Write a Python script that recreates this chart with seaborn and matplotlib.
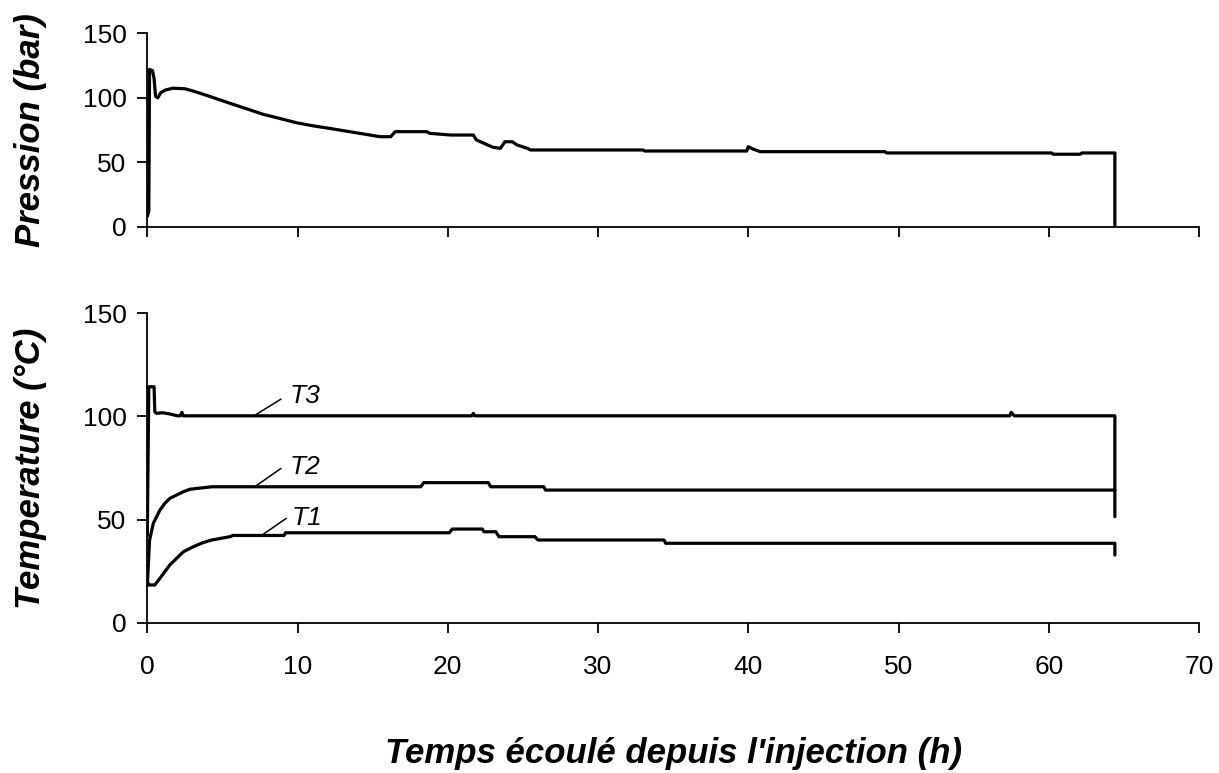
import matplotlib
matplotlib.use("Agg")
import matplotlib.pyplot as plt
import seaborn as sns
import pandas as pd

# ---- data ----
time_p = [0.0, 0.1, 0.15, 0.35, 0.45, 0.55, 0.7, 0.9, 1.2, 1.7, 2.5, 3.2, 4.3, 5.5, 6.6,
          7.7, 8.8, 9.9, 11.0, 12.1, 13.3, 14.4, 15.5, 16.2, 16.5, 18.6, 18.8, 20.2, 21.7,
          21.9, 22.4, 23.0, 23.5, 23.8, 24.3, 24.6, 25.3, 25.5, 33.0, 33.1, 39.9, 40.0,
          40.3, 40.8, 49.1, 49.2, 50.5, 60.2, 60.3, 62.1, 62.2, 64.4, 64.4]
pressure = [8, 12, 122, 121, 115, 101, 100, 104, 106, 107.4, 107, 104.7, 100.5, 95.7, 91.5,
            87.2, 84, 80.7, 78.3, 76.3, 74, 71.9, 69.8, 69.8, 73.7, 73.7, 72.4, 71.1, 71.1,
            67.3, 64.7, 61.6, 60.8, 65.9, 65.9, 63.4, 60.8, 59.5, 59.5, 58.7, 58.7, 62,
            60.3, 58.2, 58.2, 57.2, 57.2, 57.2, 56.2, 56.2, 57.2, 57.2, 0]

time_t1 = [0.0, 0.1, 0.5, 0.84, 1.5, 1.95, 2.4, 3.05, 3.7, 4.3, 5.5, 5.7, 9.1, 9.2, 20.1,
           20.3, 22.3, 22.4, 23.2, 23.4, 25.8, 26.0, 34.4, 34.5, 64.4, 64.4]
temp_t1 = [20, 18.3, 18.3, 21.5, 28, 31.2, 34.4, 36.8, 38.8, 40.1, 41.7, 42.3, 42.3, 43.6,
           43.6, 45.4, 45.4, 44.1, 44.1, 41.7, 41.7, 40.1, 40.1, 38.5, 38.5, 32.8]

time_t2 = [0.0, 0.15, 0.4, 0.62, 0.84, 1.17, 1.5, 1.95, 2.4, 2.83, 4.3, 18.2, 18.4, 22.7,
           22.85, 26.4, 26.5, 64.4, 64.4]
temp_t2 = [18, 40, 48.2, 51.4, 54.6, 57.9, 60.3, 61.9, 63.5, 64.7, 65.9, 65.9, 67.9, 67.9,
           65.9, 65.9, 64.3, 64.3, 51.4]

time_t3 = [0.0, 0.1, 0.45, 0.5, 0.6, 1.0, 1.5, 2.0, 2.2, 2.3, 2.4, 21.6, 21.7, 21.8, 57.4,
           57.5, 57.7, 64.4, 64.4]
temp_t3 = [42, 114.4, 114.4, 102.3, 101.5, 101.8, 101.2, 100.3, 100.3, 102, 100.3, 100.3,
           101.5, 100.3, 100.3, 102, 100.3, 100.3, 64.3]

x_ticks = [0, 10, 20, 30, 40, 50, 60, 70]
y_ticks = [0, 50, 100, 150]
curve_labels = ["T1", "T2", "T3"]
label_text_pos = [(9.6, 51.0), (9.5, 75.7), (9.5, 109.9)]
label_leader = [((7.6, 42.3), (9.25, 50.6)), ((7.15, 65.9), (8.9, 74.8)), ((7.1, 100.3), (8.9, 108.4))]

xlabel = "Temps écoulé depuis l'injection (h)"
ylabel_top = "Pression (bar)"
ylabel_bot = "Temperature (°C)"

# ---- styling ----
sns.set_theme(style="white")
plt.rcParams["font.family"] = ["Liberation Sans", "DejaVu Sans"]

W, H = 1219, 773
fig = plt.figure(figsize=(W / 100, H / 100), dpi=100)
fig.patch.set_facecolor("white")

left = 147.3 / W
width = (1199 - 147.3) / W
ax1 = fig.add_axes([left, 1 - 226.7 / H, width, (226.7 - 33.3) / H])
ax2 = fig.add_axes([left, 1 - 622.7 / H, width, (622.7 - 313.3) / H])

df_p = pd.DataFrame({"t": time_p, "P": pressure})
sns.lineplot(data=df_p, x="t", y="P", ax=ax1, color="black", lw=2.3,
             estimator=None, sort=False)

for tt, vv in [(time_t1, temp_t1), (time_t2, temp_t2), (time_t3, temp_t3)]:
    d = pd.DataFrame({"t": tt, "T": vv})
    sns.lineplot(data=d, x="t", y="T", ax=ax2, color="black", lw=2.3,
                 estimator=None, sort=False)

for (lx, ly), (a, b), name in zip(label_text_pos, label_leader, curve_labels):
    ax2.plot([a[0], b[0]], [a[1], b[1]], color="black", lw=1.1)
    ax2.text(lx, ly, name, fontsize=19, style="italic", va="center", ha="left",
             color="black")

for ax in (ax1, ax2):
    ax.set_xlim(0, 70)
    ax.set_ylim(0, 150)
    ax.set_xticks(x_ticks)
    ax.set_yticks(y_ticks)
    for s in ("top", "right"):
        ax.spines[s].set_visible(False)
    for s in ("left", "bottom"):
        ax.spines[s].set_color("black")
        ax.spines[s].set_linewidth(1.3)
    ax.tick_params(axis="both", direction="out", length=7, width=1.3, color="black",
                   labelsize=19, labelcolor="black", pad=8,
                   bottom=True, left=True)
    ax.set_facecolor("white")
    ax.set_xlabel("")

ax1.tick_params(axis="x", labelbottom=False)
ax2.tick_params(axis="x", pad=16)
ax1.set_yticklabels([str(v) for v in y_ticks])
ax2.set_yticklabels([str(v) for v in y_ticks])
ax2.set_xticklabels([str(v) for v in x_ticks])

ax1.set_ylabel(ylabel_top, fontsize=25, fontweight="bold", style="italic", color="black")
ax2.set_ylabel(ylabel_bot, fontsize=25, fontweight="bold", style="italic", color="black")
ax1.yaxis.set_label_coords(-0.095, 0.5)
ax2.yaxis.set_label_coords(-0.095, 0.5)

fig.text(left + width / 2, 1 - 754 / H, xlabel, fontsize=25, fontweight="bold",
         style="italic", ha="center", va="center", color="black")

fig.savefig("out.png", dpi=100, facecolor="white")
